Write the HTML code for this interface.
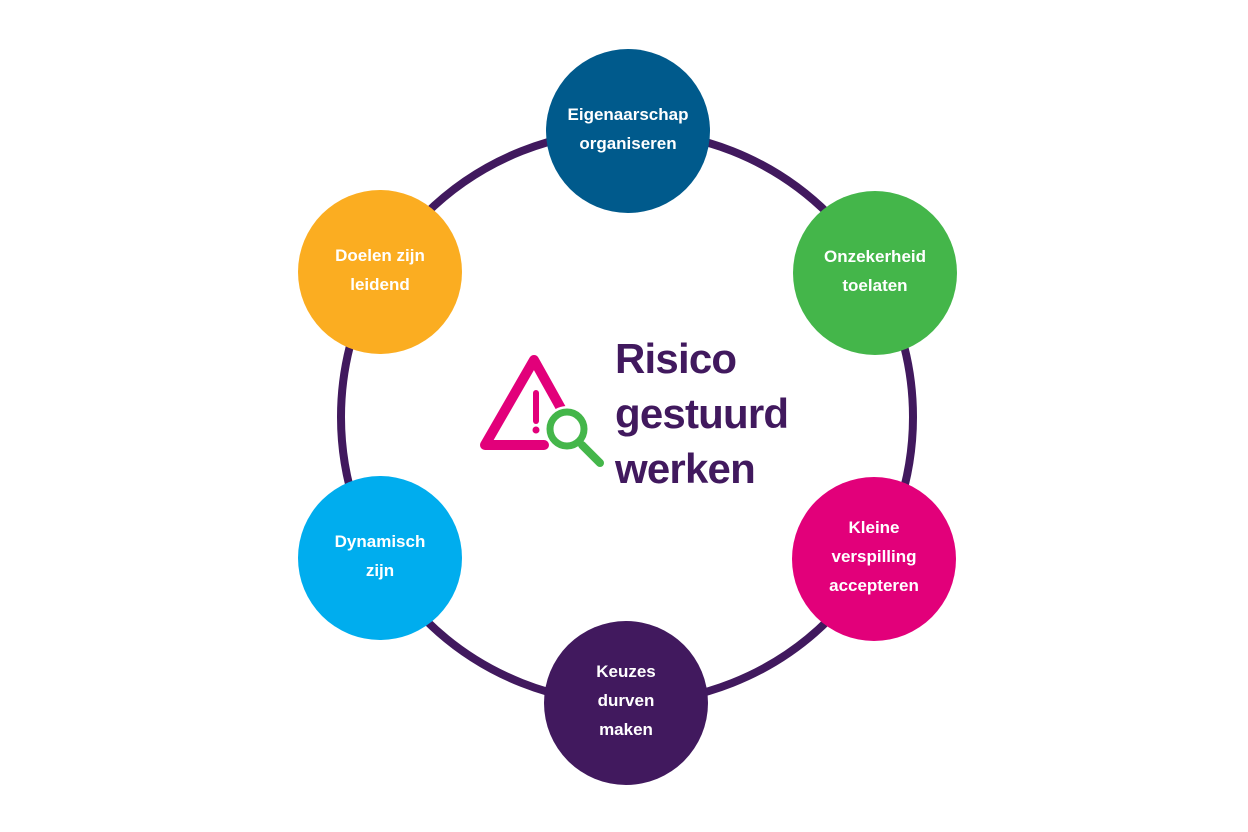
<!DOCTYPE html>
<html><head><style>
html,body{margin:0;padding:0;background:#fff;}
body{width:1248px;height:832px;position:relative;overflow:hidden;font-family:"Liberation Sans",sans-serif;}
.n{position:absolute;width:164px;height:164px;border-radius:50%;display:flex;align-items:center;justify-content:center;text-align:center;color:#fff;font-weight:bold;font-size:17px;line-height:29px;box-sizing:border-box;padding-bottom:5px;}
.t{position:absolute;left:615px;top:331px;color:#41195e;font-weight:bold;font-size:42px;line-height:55px;letter-spacing:-0.8px;}
</style></head><body>
<svg width="1248" height="832" style="position:absolute;left:0;top:0">
<circle cx="627" cy="417" r="286" fill="none" stroke="#41195e" stroke-width="8"/>
<path d="M544 445 L485 445 L534 360 L568 421" fill="none" stroke="#e2007a" stroke-width="10" stroke-linejoin="round" stroke-linecap="round"/>
<line x1="536" y1="393" x2="536" y2="421" stroke="#e2007a" stroke-width="6" stroke-linecap="round"/>
<circle cx="536" cy="430" r="3.5" fill="#e2007a"/>
<circle cx="567" cy="429" r="23" fill="#fff"/>
<circle cx="567" cy="429" r="17" fill="none" stroke="#44b64a" stroke-width="7"/>
<line x1="582" y1="445" x2="600" y2="463" stroke="#44b64a" stroke-width="8" stroke-linecap="round"/>
</svg>
<div class="n" style="left:546px;top:49px;background:#005a8c">Eigenaarschap<br>organiseren</div>
<div class="n" style="left:793px;top:191px;background:#44b64a">Onzekerheid<br>toelaten</div>
<div class="n" style="left:792px;top:477px;background:#e2007a">Kleine<br>verspilling<br>accepteren</div>
<div class="n" style="left:544px;top:621px;background:#41195e">Keuzes<br>durven<br>maken</div>
<div class="n" style="left:298px;top:476px;background:#00adee">Dynamisch<br>zijn</div>
<div class="n" style="left:298px;top:190px;background:#fbad21">Doelen zijn<br>leidend</div>
<div class="t">Risico<br>gestuurd<br>werken</div>
</body></html>
